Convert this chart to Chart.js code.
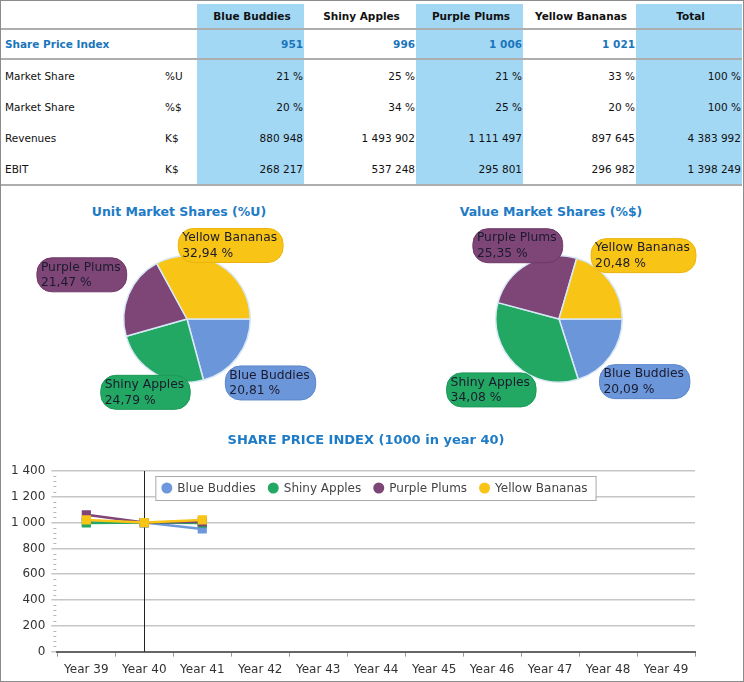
<!DOCTYPE html>
<html>
<head>
<meta charset="utf-8">
<script src="https://cdn.jsdelivr.net/npm/chart.js@4.4.1/dist/chart.umd.min.js"></script>
<style>
  html, body { margin: 0; padding: 0; background: #fff; }
  body { font-family: "DejaVu Sans", Verdana, sans-serif; }
  #frame { position: relative; width: 742px; height: 680px; border: 1px solid #8c8c8c; overflow: hidden; background: #fff; }
  #kpi { position: absolute; left: 0; top: 3px; width: 741px; border-collapse: collapse; table-layout: fixed; font-size: 10.5px; color: #111; }
  #kpi td, #kpi th { padding: 0 1px 0 4px; white-space: nowrap; }
  #kpi th { height: 24px; font-weight: bold; font-size: 10.5px; text-align: center; border-bottom: 2px solid #adadad; }
  #kpi tr.spi td { height: 28px; color: #1a75bb; font-weight: bold; font-size: 10.5px; border-bottom: 2px solid #adadad; }
  #kpi tr.row td { height: 31px; }
  #kpi tr.last td { border-bottom: 2px solid #adadad; }
  #kpi td.num { text-align: right; }
  #kpi .hl { background: #a3d8f5; }
  .pieBox { position: absolute; top: 195px; width: 372px; height: 225px; }
  .title { position: absolute; box-sizing: border-box; text-align: center; font-weight: bold; color: #1e7bc6; white-space: nowrap; }
  .pieTitle { top: 203px; width: 372px; padding-right: 16px; font-size: 12.5px; }
  #lineTitle { left: 165px; top: 431px; width: 400px; font-size: 13px; }
  #lineBox { position: absolute; left: 0; top: 425px; width: 742px; height: 257px; }
</style>
</head>
<body>
<div id="frame">
  <table id="kpi"></table>
  <div class="title pieTitle" style="left:0">Unit Market Shares (%U)</div>
  <div class="title pieTitle" style="left:372px">Value Market Shares (%$)</div>
  <div class="pieBox" style="left:0"><canvas id="unitPie"></canvas></div>
  <div class="pieBox" style="left:372px"><canvas id="valuePie"></canvas></div>
  <div id="lineBox"><canvas id="indexLine"></canvas></div>
  <div class="title" id="lineTitle">SHARE PRICE INDEX (1000 in year 40)</div>
</div>
<script>
// products and their figures
const products = ["Blue Buddies", "Shiny Apples", "Purple Plums", "Yellow Bananas"];
const sharePriceIndex = [951, 996, 1006, 1021];
const unitShares = [20.81, 24.79, 21.47, 32.94];
const valueShares = [20.09, 34.08, 25.35, 20.48];
const revenues = [880948, 1493902, 1111497, 897645];
const ebit = [268217, 537248, 295801, 296982];
const totalRevenues = 4383992;
const totalEbit = 1398249;

// share price index per year
const years = ["Year 39", "Year 40", "Year 41", "Year 42", "Year 43", "Year 44",
               "Year 45", "Year 46", "Year 47", "Year 48", "Year 49"];
const blueIndex   = [1005, 1000, 951,  null, null, null, null, null, null, null, null];
const shinyIndex  = [997,  1000, 996,  null, null, null, null, null, null, null, null];
const purpleIndex = [1060, 1000, 1006, null, null, null, null, null, null, null, null];
const yellowIndex = [1021, 1000, 1021, null, null, null, null, null, null, null, null];
const yTicks = [0, 200, 400, 600, 800, 1000, 1200, 1400];

const productColors = ["#6b96da", "#22a863", "#7e4577", "#f8c416"];
const boxBorders = ["#5b86cb", "#1c9857", "#6e3868", "#e9b40c"];
const FONT = '"DejaVu Sans", Verdana, sans-serif';

const fmt = (n) => String(n).replace(/\B(?=(\d{3})+(?!\d))/g, "\u00a0");

// ---- table ----
const table = document.getElementById("kpi");
const colWidths = [160, 36, 107, 112, 107, 113, 106];
let html = "<colgroup>" + colWidths.map(w => `<col style="width:${w}px">`).join("") + "</colgroup>";
const hl = (i) => (i === 0 || i === 2) ? " hl" : "";
html += "<tr><th></th><th></th>" + products.map((p, i) => `<th class="${hl(i)}">${p}</th>`).join("") + '<th class="hl">Total</th></tr>';
html += '<tr class="spi"><td>Share Price Index</td><td></td>' +
  sharePriceIndex.map((v, i) => `<td class="num${hl(i)}">${fmt(v)}</td>`).join("") + '<td class="num hl"></td></tr>';
const rows = [
  ["Market Share", "%U", unitShares.map(v => Math.round(v) + "\u00a0%"), "100\u00a0%"],
  ["Market Share", "%$", valueShares.map(v => Math.round(v) + "\u00a0%"), "100\u00a0%"],
  ["Revenues", "K$", revenues.map(fmt), fmt(totalRevenues)],
  ["EBIT", "K$", ebit.map(fmt), fmt(totalEbit)]
];
rows.forEach((r, k) => {
  html += `<tr class="row${k === rows.length - 1 ? " last" : ""}"><td>${r[0]}</td><td>${r[1]}</td>` +
    r[2].map((v, i) => `<td class="num${hl(i)}">${v}</td>`).join("") + `<td class="num hl">${r[3]}</td></tr>`;
});
table.innerHTML = html;

// ---- pie labels: rounded boxes outside each slice ----
const pieLabels = {
  id: "pieLabels",
  afterDatasetsDraw(chart) {
    const ctx = chart.ctx;
    const meta = chart.getDatasetMeta(0);
    const values = chart.data.datasets[0].data;
    ctx.save();
    ctx.font = "12.3px " + FONT;
    meta.data.forEach((arc, i) => {
      const mid = (arc.startAngle + arc.endAngle) / 2;
      const r = arc.outerRadius;
      // horizontal-ish slices push their label further out
      const d = r * (0.79 + 1.1 * Math.abs(Math.cos(mid)));
      const cx = arc.x + Math.cos(mid) * d;
      const cy = arc.y + Math.sin(mid) * d;
      const line1 = chart.data.labels[i];
      const line2 = values[i].toFixed(2).replace(".", ",") + " %";
      const w = Math.max(ctx.measureText(line1).width, ctx.measureText(line2).width) + 10;
      const h = 34;
      ctx.beginPath();
      ctx.roundRect(cx - w / 2, cy - h / 2, w, h, 15);
      ctx.fillStyle = productColors[i];
      ctx.fill();
      ctx.lineWidth = 1;
      ctx.strokeStyle = boxBorders[i];
      ctx.stroke();
      ctx.fillStyle = "#1b1b2e";
      ctx.textAlign = "left";
      ctx.textBaseline = "middle";
      ctx.fillText(line1, cx - w / 2 + 4, cy - 7.5);
      ctx.fillText(line2, cx - w / 2 + 4, cy + 8);
    });
    ctx.restore();
  }
};

function makePie(id, values) {
  new Chart(document.getElementById(id), {
    type: "pie",
    data: {
      labels: products,
      datasets: [{
        data: values,
        backgroundColor: productColors,
        borderColor: "#d8e8f6",
        borderWidth: 1.5
      }]
    },
    options: {
      responsive: true,
      maintainAspectRatio: false,
      animation: false,
      rotation: 90, // first slice starts at 3 o'clock
      layout: { padding: { top: 59, bottom: 38, left: 122, right: 122 } },
      plugins: { legend: { display: false }, tooltip: { enabled: false } }
    },
    plugins: [pieLabels]
  });
}
makePie("unitPie", unitShares);
makePie("valuePie", valueShares);

// ---- line chart helpers ----
const yearMarker = {
  id: "yearMarker",
  beforeDatasetsDraw(chart) {
    const { ctx, chartArea } = chart;
    const x = Math.round(chart.scales.x.getPixelForValue(1)) + 0.5;
    ctx.save();
    ctx.strokeStyle = "#222";
    ctx.lineWidth = 1;
    ctx.beginPath();
    ctx.moveTo(x, chartArea.top);
    ctx.lineTo(x, chartArea.bottom);
    ctx.stroke();
    // minor ticks on the value axis
    const y = chart.scales.y;
    ctx.strokeStyle = "#b5b5b5";
    for (let v = 40; v < 1400; v += 40) {
      if (v % 200 === 0) continue;
      const py = Math.round(y.getPixelForValue(v)) + 0.5;
      ctx.beginPath();
      ctx.moveTo(chartArea.left - 4, py);
      ctx.lineTo(chartArea.left - 1, py);
      ctx.stroke();
    }
    ctx.restore();
  }
};

const floatingLegend = {
  id: "floatingLegend",
  afterDraw(chart) {
    const { ctx, chartArea } = chart;
    ctx.save();
    ctx.font = "12px " + FONT;
    const items = chart.data.datasets.map(d => ({ text: d.label, color: d.borderColor }));
    const widths = items.map(it => 17 + ctx.measureText(it.text).width + 11);
    const boxW = widths.reduce((a, b) => a + b, 0) + 2;
    const left = chartArea.left + 98, top = chartArea.top + 5, h = 24;
    ctx.fillStyle = "#fff";
    ctx.fillRect(left, top, boxW, h);
    ctx.strokeStyle = "#a9a9a9";
    ctx.lineWidth = 1;
    ctx.strokeRect(left + 0.5, top + 0.5, boxW, h);
    let x = left + 6;
    items.forEach((it, i) => {
      ctx.beginPath();
      ctx.arc(x + 5.5, top + h / 2, 5.5, 0, Math.PI * 2);
      ctx.fillStyle = it.color;
      ctx.fill();
      ctx.fillStyle = "#444";
      ctx.textBaseline = "middle";
      ctx.fillText(it.text, x + 16, top + h / 2 + 0.5);
      x += widths[i];
    });
    ctx.restore();
  }
};

const series = [
  { label: products[0], data: blueIndex,   color: "#6f98dc", order: 4 },
  { label: products[1], data: shinyIndex,  color: "#22a863", order: 3 },
  { label: products[2], data: purpleIndex, color: "#7e4577", order: 2 },
  { label: products[3], data: yellowIndex, color: "#f8c416", order: 1 }
];

new Chart(document.getElementById("indexLine"), {
  type: "line",
  data: {
    labels: years,
    datasets: series.map(s => ({
      label: s.label,
      data: s.data,
      borderColor: s.color,
      backgroundColor: s.color,
      pointStyle: "rect",
      pointRadius: 6.5,
      pointBorderWidth: 0,
      borderWidth: 2.5,
      tension: 0,
      order: s.order
    }))
  },
  options: {
    responsive: true,
    maintainAspectRatio: false,
    animation: false,
    layout: { padding: { left: 4, right: 48, top: 45, bottom: 0 } },
    plugins: {
      legend: { display: false },
      tooltip: { enabled: false }
    },
    scales: {
      x: {
        offset: true,
        grid: { offset: true, drawOnChartArea: false, drawTicks: true, tickLength: 5, color: "#999" },
        border: { color: "#666", width: 2 },
        ticks: { color: "#333", font: { family: FONT, size: 12 }, padding: 6, maxRotation: 0, autoSkip: false }
      },
      y: {
        min: 0,
        max: 1400,
        afterBuildTicks: (axis) => { axis.ticks = yTicks.map(v => ({ value: v })); },
        grid: { color: "#c6c6c6", lineWidth: 1.5, tickLength: 6 },
        border: { display: false },
        ticks: {
          color: "#333",
          font: { family: FONT, size: 12 },
          padding: 6,
          callback: (v) => fmt(v)
        }
      }
    }
  },
  plugins: [yearMarker, floatingLegend]
});
</script>
</body>
</html>
